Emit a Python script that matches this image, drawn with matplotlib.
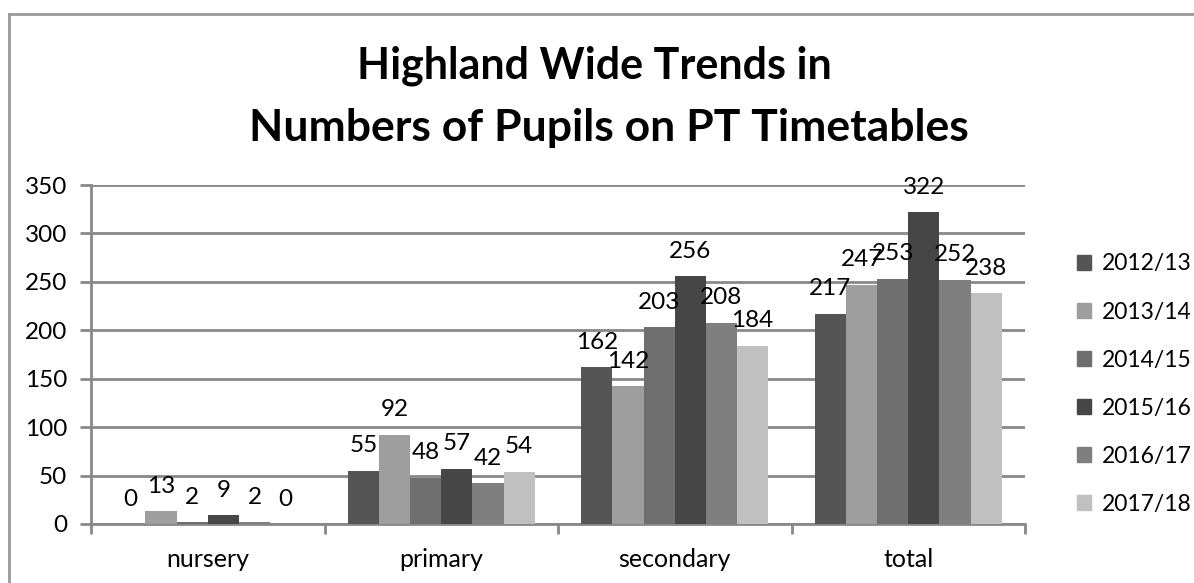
import matplotlib.pyplot as plt
import numpy as np
from matplotlib.lines import Line2D
from matplotlib.patches import Patch

plt.rcParams['font.family'] = ['Lato', 'DejaVu Sans']

categories = ['nursery', 'primary', 'secondary', 'total']
years = ['2012/13', '2013/14', '2014/15', '2015/16', '2016/17', '2017/18']
values = {
    '2012/13': [0, 55, 162, 217],
    '2013/14': [13, 92, 142, 247],
    '2014/15': [2, 48, 203, 253],
    '2015/16': [9, 57, 256, 322],
    '2016/17': [2, 42, 208, 252],
    '2017/18': [0, 54, 184, 238],
}
colors = ['#555555', '#9e9e9e', '#6f6f6f', '#464646', '#7f7f7f', '#c0c0c0']

fig = plt.figure(figsize=(11.94, 5.83), dpi=100)
ax = fig.add_axes([91 / 1194, 1 - 524 / 583, (1025 - 91) / 1194, (524 - 185) / 583])

x = np.arange(len(categories))
bw = 0.8 / 6
for i, yr in enumerate(years):
    pos = x - 0.4 + bw * (i + 0.5)
    ax.bar(pos, values[yr], width=bw, color=colors[i], label=yr, zorder=3)
    for px, v in zip(pos, values[yr]):
        ax.annotate(str(v), (px, v), xytext=(0, 18), textcoords='offset points',
                    ha='center', va='center', fontsize=17.5, color='black', zorder=4)

ax.set_xlim(-0.5, len(categories) - 0.5)
ax.set_ylim(0, 350)
ax.set_yticks(range(0, 351, 50))
ax.tick_params(axis='y', labelsize=17.5, length=8, width=2, color='#888888', pad=9)
ax.yaxis.grid(True, color='#888888', linewidth=2, zorder=0)

ax.set_xticks(x)
ax.set_xticklabels(categories)
ax.set_xticks(np.arange(-0.5, len(categories)), minor=True)
ax.tick_params(axis='x', which='major', length=0, labelsize=18, pad=17)
ax.tick_params(axis='x', which='minor', length=7, width=2, color='#888888')

for s in ['top', 'right']:
    ax.spines[s].set_visible(False)
for s in ['left', 'bottom']:
    ax.spines[s].set_color('#888888')
    ax.spines[s].set_linewidth(2)

handles = [Patch(color=c) for c in colors]
fig.legend(handles, years, loc='upper left', bbox_to_anchor=(1066 / 1194, 1 - 242 / 583),
           frameon=False, fontsize=16.5, handlelength=0.6, handleheight=0.6,
           handletextpad=0.45, labelspacing=1.18, borderpad=0)

fig.text(0.4975, 1 - 66 / 583, 'Highland Wide Trends in', ha='center', va='center',
         fontsize=31, fontweight='bold')
fig.text(0.51, 1 - 128 / 583, 'Numbers of Pupils on PT Timetables', ha='center', va='center',
         fontsize=32, fontweight='bold')

# chart frame (cut off at right and bottom)
fig.add_artist(Line2D([9 / 1194, 1], [1 - 14 / 583, 1 - 14 / 583], color='#999999', linewidth=2,
                      transform=fig.transFigure))
fig.add_artist(Line2D([9 / 1194, 9 / 1194], [0, 1 - 14 / 583], color='#999999', linewidth=2,
                      transform=fig.transFigure))

fig.savefig('out.png', dpi=100)
